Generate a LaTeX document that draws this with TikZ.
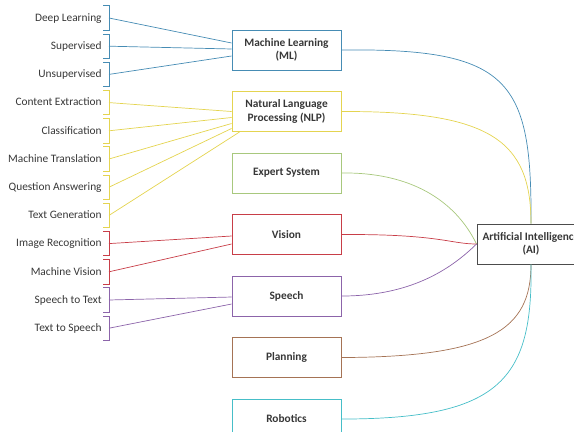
\documentclass[tikz,border=0pt]{standalone}
\usepackage{fontspec}
\setmainfont{Carlito}
\usepackage{xcolor}
\usepackage{tikz}
\usetikzlibrary{positioning, calc}

\definecolor{mlblue}{RGB}{70,140,180}
\definecolor{nlpyellow}{RGB}{228,212,80}
\definecolor{exgreen}{RGB}{168,200,125}
\definecolor{visred}{RGB}{200,62,72}
\definecolor{sppurple}{RGB}{140,100,170}
\definecolor{plbrown}{RGB}{165,115,85}
\definecolor{robcyan}{RGB}{70,190,200}
\definecolor{txtgray}{RGB}{55,55,55}

\begin{document}
\begin{tikzpicture}[
      x=0.03cm, y=-0.03cm,
      node distance=0.617cm,
      every node/.style={font=\fontsize{9.7}{11.5}\selectfont, text=txtgray},
      lbl/.style={anchor=east, minimum height=0.72cm, inner xsep=1pt, text height=1.6ex, text depth=0.45ex},
      cat/.style={draw, line width=0.8pt, align=center, minimum width=3.27cm, minimum height=1.2cm, font=\fontsize{9.7}{11.5}\selectfont\bfseries},
      aibox/.style={cat, draw=black!70, minimum width=3.24cm},
      brk/.style={line width=0.6pt},
      link/.style={line width=0.6pt}
    ]
    \clip (0,0) rectangle (574,432);
    % categories
    \node[cat, draw=mlblue] (ml) at (286.5,50) {Machine Learning \\ (ML)};
    \node[cat, draw=nlpyellow, below=of ml] (nlp) {Natural Language \\ Processing (NLP)};
    \node[cat, draw=exgreen, below=of nlp] (expert) {Expert System};
    \node[cat, draw=visred, below=of expert] (vision) {Vision};
    \node[cat, draw=sppurple, below=of vision] (speech) {Speech};
    \node[cat, draw=plbrown, below=of speech] (planning) {Planning};
    \node[cat, draw=robcyan, below=of planning] (robotics) {Robotics};
    \node[aibox] (ai) at (531,244) {Artificial Intelligence \\ (AI)};
    % sub-fields with brackets
    \foreach \t/\c [count=\i] in {Deep Learning/mlblue, Supervised/mlblue, Unsupervised/mlblue,
        Content Extraction/nlpyellow, Classification/nlpyellow, Machine Translation/nlpyellow,
        Question Answering/nlpyellow, Text Generation/nlpyellow, Image Recognition/visred,
        Machine Vision/visred, Speech to Text/sppurple, Text to Speech/sppurple} {
      \node[lbl] (l\i) at (103,{18+28.2*(\i-1)}) {\t};
      \draw[brk, \c] (l\i.north east) -- ++(6,0) |- (l\i.south east);
      \coordinate (b\i) at ($(l\i.east)+(6,0)$);
    }
    \foreach \i/\n/\dx/\dy/\c in {1/ml/0/-7/mlblue, 2/ml/0/-1/mlblue, 3/ml/0/6/mlblue,
        4/nlp/0/0/nlpyellow, 5/nlp/0/6/nlpyellow, 6/nlp/0/12/nlpyellow, 7/nlp/0/17/nlpyellow,
        8/nlp/8/20.5/nlpyellow, 9/vision/0/1.5/visred, 10/vision/0/9.5/visred,
        11/speech/0/1/sppurple, 12/speech/0/8/sppurple}
      \draw[link, \c] (b\i) -- ($(\n.west)+(\dx,\dy)$);
    % into AI
    \draw[link, mlblue] (ml.east) .. controls (510,48) and (532,80) .. (ai.north);
    \draw[link, nlpyellow] (nlp.east) .. controls (490,111) and (531,140) .. (ai.north);
    \draw[link, exgreen] (expert.east) .. controls (410,172) and (455,200) .. (ai.west);
    \draw[link, visred] (vision.east) .. controls (440,234) and (450,244) .. (ai.west);
    \draw[link, sppurple] (speech.east) .. controls (410,296) and (450,270) .. (ai.west);
    \draw[link, plbrown] (planning.east) .. controls (490,357) and (531,330) .. (ai.south);
    \draw[link, robcyan] (robotics.east) .. controls (500,419) and (533,380) .. (ai.south);
  \end{tikzpicture}
\end{document}
